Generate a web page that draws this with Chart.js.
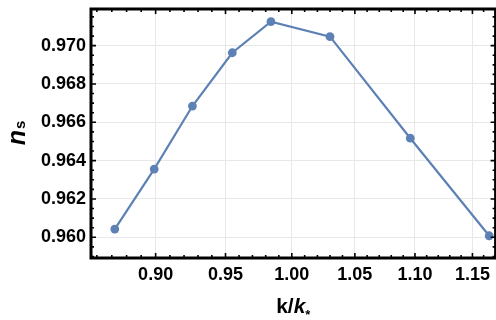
<!DOCTYPE html>
<html>
<head>
<meta charset="utf-8">
<script src="https://cdn.jsdelivr.net/npm/chart.js@4.4.0/dist/chart.umd.min.js"></script>
<style>
html, body { margin: 0; padding: 0; overflow: hidden; background: #fff; }
#wrap { width: 500px; height: 320px; }
</style>
</head>
<body>
<div id="wrap"><canvas id="chart" width="500" height="320"></canvas></div>
<script>
// данные
const kRatio = [0.872, 0.899, 0.926, 0.955, 0.984, 1.030, 1.096, 1.165];
const nsValues = [0.96043, 0.96356, 0.96685, 0.96963, 0.97125, 0.97047, 0.96517, 0.96008];

const xTicks = [0.90, 0.95, 1.00, 1.05, 1.10, 1.15];
const xTickLabels = ['0.90', '0.95', '1.00', '1.05', '1.10', '1.15'];
const yTicks = [0.960, 0.962, 0.964, 0.966, 0.968, 0.970];
const yTickLabels = ['0.960', '0.962', '0.964', '0.966', '0.968', '0.970'];

const lineColor = '#5e81b5';
const labelFont = { family: 'Liberation Sans, Arial, sans-serif', size: 18, weight: 'bold' };

// рамка с засечками как в Mathematica
const framePlugin = {
    id: 'frame',
    afterDatasetsDraw(chart) {
        const { ctx, chartArea: a, scales: { x, y } } = chart;
        ctx.save();
        ctx.strokeStyle = '#000';
        ctx.lineWidth = 1.6;
        ctx.beginPath();
        for (let i = 86; i <= 116; i++) {
            const v = i / 100;
            const px = x.getPixelForValue(v);
            if (px < a.left || px > a.right) continue;
            const len = (i % 5 === 0) ? 5 : 3;
            ctx.moveTo(px, a.bottom); ctx.lineTo(px, a.bottom - len);
            ctx.moveTo(px, a.top); ctx.lineTo(px, a.top + len);
        }
        for (let i = 1918; i <= 1944; i++) {
            const v = i / 2000;
            const py = y.getPixelForValue(v);
            if (py < a.top || py > a.bottom) continue;
            const len = (i % 4 === 0) ? 5 : 3;
            ctx.moveTo(a.left, py); ctx.lineTo(a.left + len, py);
            ctx.moveTo(a.right, py); ctx.lineTo(a.right - len, py);
        }
        ctx.stroke();
        ctx.lineWidth = 3;
        ctx.strokeRect(a.left, a.top, a.right - a.left, a.bottom - a.top);
        ctx.restore();
    }
};

// подписи осей с курсивом и индексами
const titlesPlugin = {
    id: 'titles',
    afterDraw(chart) {
        const { ctx, chartArea: a } = chart;
        ctx.save();
        ctx.fillStyle = '#000';
        ctx.textBaseline = 'alphabetic';

        // k/k_*
        const f1 = 'bold 21px Liberation Sans, Arial, sans-serif';
        const f2 = 'italic bold 21px Liberation Sans, Arial, sans-serif';
        const f3 = 'bold 13px Liberation Sans, Arial, sans-serif';
        ctx.font = f1; const w1 = ctx.measureText('k/').width;
        ctx.font = f2; const w2 = ctx.measureText('k').width;
        ctx.font = f3; const w3 = ctx.measureText('*').width;
        let xx = (a.left + a.right) / 2 - (w1 + w2 + w3) / 2;
        const base = 313;
        ctx.font = f1; ctx.fillText('k/', xx, base); xx += w1;
        ctx.font = f2; ctx.fillText('k', xx, base); xx += w2;
        ctx.font = f3; ctx.fillText('*', xx, base + 6);

        // n_s
        ctx.translate(25, (a.top + a.bottom) / 2);
        ctx.rotate(-Math.PI / 2);
        const g1 = 'italic bold 25px Liberation Sans, Arial, sans-serif';
        const g2 = 'bold 15px Liberation Sans, Arial, sans-serif';
        ctx.font = g1; const v1 = ctx.measureText('n').width;
        ctx.font = g2; const v2 = ctx.measureText('s').width;
        let yy = -(v1 + v2) / 2;
        ctx.font = g1; ctx.fillText('n', yy, 0); yy += v1 + 1;
        ctx.font = g2; ctx.fillText('s', yy, 0);
        ctx.restore();
    }
};

const ctx = document.getElementById('chart').getContext('2d');
const chart = new Chart(ctx, {
    type: 'scatter',
    data: {
        datasets: [{
            data: kRatio.map((k, i) => ({ x: k, y: nsValues[i] })),
            showLine: true,
            borderColor: lineColor,
            backgroundColor: lineColor,
            borderWidth: 2.2,
            pointRadius: 4.4,
            pointHoverRadius: 4.4,
            pointBorderWidth: 0,
            clip: 6
        }]
    },
    options: {
        responsive: false,
        devicePixelRatio: 1,
        animation: false,
        layout: { padding: { left: 0, top: 9, right: 2, bottom: 0 } },
        plugins: {
            legend: { display: false },
            tooltip: { enabled: false }
        },
        scales: {
            x: {
                type: 'logarithmic',
                min: 0.8561,
                max: 1.1708,
                border: { display: false },
                grid: { color: '#e8e8e8', lineWidth: 1, drawTicks: false },
                ticks: {
                    color: '#000',
                    font: labelFont,
                    padding: 6,
                    autoSkip: false,
                    maxRotation: 0,
                    callback: (v, i) => xTickLabels[i]
                },
                afterBuildTicks: s => { s.ticks = xTicks.map(v => ({ value: v })); },
                afterFit: s => { s.height = 62; s.paddingLeft = 0; s.paddingRight = 0; }
            },
            y: {
                min: 0.95892,
                max: 0.971913,
                border: { display: false },
                grid: { color: '#e8e8e8', lineWidth: 1, drawTicks: false },
                ticks: {
                    color: '#000',
                    font: labelFont,
                    padding: 5,
                    autoSkip: false,
                    callback: (v, i) => yTickLabels[i]
                },
                afterBuildTicks: s => { s.ticks = yTicks.map(v => ({ value: v })); },
                afterFit: s => { s.width = 91; s.paddingTop = 0; s.paddingBottom = 0; }
            }
        }
    },
    plugins: [framePlugin, titlesPlugin]
});
</script>
</body>
</html>
